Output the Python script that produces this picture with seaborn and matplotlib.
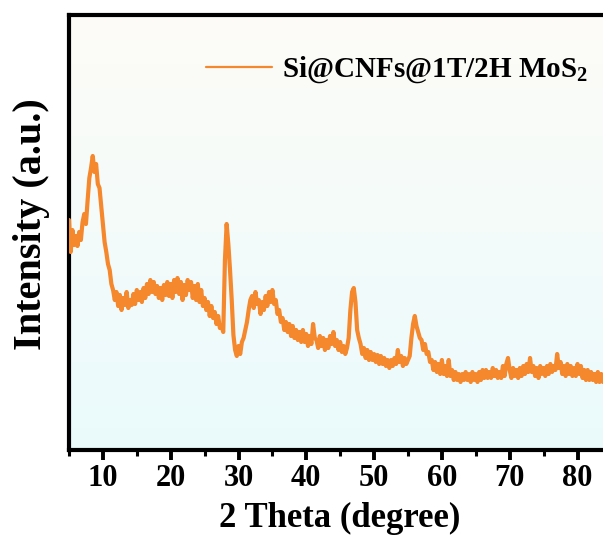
import numpy as np
import pandas as pd
import matplotlib
matplotlib.use("Agg")
import matplotlib.pyplot as plt
from matplotlib.colors import LinearSegmentedColormap
import seaborn as sns

# ---- data ----
two_theta_start = 5.0
two_theta_step = 0.25
intensity = [
    230, 198, 220, 205, 214, 204, 218, 210,                     # 5.00 - 6.75
    228, 236, 226, 250, 272, 282, 294, 278,                     # 7.00 - 8.75
    286, 266, 262, 244, 225, 208, 198, 186,                     # 9.00 - 10.75
    180, 166, 160, 150, 158, 144, 155, 140,                     # 11.00 - 12.75
    152, 145, 158, 142, 150, 145, 156, 146,                     # 13.00 - 14.75
    160, 150, 158, 148, 162, 152, 166, 156,                     # 15.00 - 16.75
    170, 158, 168, 156, 164, 152, 162, 150,                     # 17.00 - 18.75
    165, 155, 168, 154, 166, 152, 170, 158,                     # 19.00 - 20.75
    172, 156, 168, 150, 165, 155, 170, 160,                     # 21.00 - 22.75
    168, 152, 164, 150, 166, 148, 160, 144,                     # 23.00 - 24.75
    152, 140, 148, 134, 144, 132, 138, 126,                     # 25.00 - 26.75
    134, 122, 124, 118, 190, 226, 206, 180,                     # 27.00 - 28.75
    150, 115, 100, 94, 104, 96, 108, 112,                       # 29.00 - 30.75
    120, 128, 140, 150, 154, 142, 158, 146,                     # 31.00 - 32.75
    150, 136, 148, 140, 154, 144, 158, 148,                     # 33.00 - 34.75
    160, 146, 150, 136, 140, 128, 132, 120,                     # 35.00 - 36.75
    128, 118, 126, 114, 124, 112, 120, 110,                     # 37.00 - 38.75
    118, 108, 120, 108, 116, 104, 114, 106,                     # 39.00 - 40.75
    126, 112, 110, 102, 114, 104, 112, 100,                     # 41.00 - 42.75
    110, 102, 114, 106, 118, 104, 110, 100,                     # 43.00 - 44.75
    108, 98, 104, 96, 102, 112, 140, 158,                       # 45.00 - 46.75
    162, 148, 120, 112, 106, 96, 102, 92,                       # 47.00 - 48.75
    100, 90, 98, 90, 96, 88, 95, 86,                            # 49.00 - 50.75
    94, 86, 92, 84, 90, 82, 90, 84,                             # 51.00 - 52.75
    92, 86, 100, 88, 94, 84, 92, 86,                            # 53.00 - 54.75
    90, 94, 112, 126, 134, 124, 118, 112,                       # 55.00 - 56.75
    110, 100, 106, 96, 98, 88, 90, 80,                          # 57.00 - 58.75
    88, 78, 86, 76, 90, 76, 84, 74,                             # 59.00 - 60.75
    90, 74, 80, 70, 78, 70, 76, 68,                             # 61.00 - 62.75
    76, 70, 78, 70, 76, 68, 78, 70,                             # 63.00 - 64.75
    76, 68, 78, 70, 80, 72, 80, 72,                             # 65.00 - 66.75
    78, 72, 82, 74, 80, 72, 78, 72,                             # 67.00 - 68.75
    84, 74, 86, 92, 80, 72, 82, 74,                             # 69.00 - 70.75
    80, 72, 82, 74, 84, 76, 86, 78,                             # 71.00 - 72.75
    92, 78, 84, 74, 82, 72, 84, 76,                             # 73.00 - 74.75
    82, 74, 84, 76, 86, 78, 84, 80,                             # 75.00 - 76.75
    96, 82, 88, 76, 84, 74, 86, 76,                             # 77.00 - 78.75
    84, 74, 82, 74, 86, 76, 84, 72,                             # 79.00 - 80.75
    80, 70, 80, 70, 78, 70, 76, 68,                             # 81.00 - 82.75
    78, 68, 76, 68, 74, 68, 76, 70,                             # 83.00 - 84.75
    76, 68, 74, 70, 76,                                         # 85.00 - 86.00
]
two_theta = two_theta_start + two_theta_step * np.arange(len(intensity))
series_label = "Si@CNFs@1T/2H MoS$_{2}$"
x_ticks = [10, 20, 30, 40, 50, 60, 70, 80]
x_label = "2 Theta (degree)"
y_label = "Intensity (a.u.)"

df = pd.DataFrame({"two_theta": two_theta, "intensity": intensity})

# ---- style ----
sns.set_style("ticks")
plt.rcParams["font.family"] = ["Liberation Serif", "DejaVu Serif"]
plt.rcParams["font.weight"] = "bold"
plt.rcParams["text.color"] = "black"
plt.rcParams["axes.labelcolor"] = "black"
plt.rcParams["xtick.color"] = "black"
plt.rcParams["ytick.color"] = "black"
plt.rcParams["mathtext.fontset"] = "custom"
plt.rcParams["mathtext.rm"] = "Liberation Serif:bold"
plt.rcParams["mathtext.it"] = "Liberation Serif:bold"
plt.rcParams["mathtext.bf"] = "Liberation Serif:bold"
plt.rcParams["mathtext.default"] = "rm"

W, H = 603, 545
fig = plt.figure(figsize=(W / 100, H / 100), dpi=100)
fig.patch.set_facecolor("white")

px_per_deg = 6.78
x_min, x_max = 5, 88
left_px, bottom_px, top_px = 69, 450, 15
ax = fig.add_axes([left_px / W, (H - bottom_px) / H,
                   (x_max - x_min) * px_per_deg / W, (bottom_px - top_px) / H])

# background gradient
cmap = LinearSegmentedColormap.from_list("bg", ["#eafafc", "#f4fbfa", "#fdfcf7"])
grad = np.linspace(0, 1, 256).reshape(-1, 1)
ax.imshow(grad, extent=[0, 1, 0, 1], transform=ax.transAxes, origin="lower",
          aspect="auto", cmap=cmap, zorder=0)

line_color = "#f5872c"
sns.lineplot(data=df, x="two_theta", y="intensity", ax=ax, color=line_color,
             linewidth=3.0, label=series_label, zorder=3)

ax.set_xlim(x_min, x_max)
ax.set_ylim(0, 435)
ax.set_xticks(x_ticks)
ax.set_xticks(np.arange(5, 90, 5), minor=True)
ax.set_yticks([])
ax.tick_params(axis="x", which="major", direction="out", length=7, width=2.8,
               labelsize=22, pad=3, colors="black")
ax.tick_params(axis="x", which="minor", direction="out", length=4, width=2.2,
               colors="black")
for lab in ax.get_xticklabels():
    lab.set_fontweight("bold")
for s in ax.spines.values():
    s.set_linewidth(3.0)
    s.set_color("black")

ax.set_xlabel(x_label, fontsize=25, fontweight="bold", color="black")
ax.set_ylabel(y_label, fontsize=29, fontweight="bold", color="black")
ax.xaxis.set_label_coords((340 - left_px) / ((x_max - x_min) * px_per_deg), -0.12)
ax.yaxis.set_label_coords(-0.034, 0.52)

leg = ax.legend(loc="center left", bbox_to_anchor=(206 / W, 1 - 70 / H),
                bbox_transform=fig.transFigure, frameon=False, fontsize=21,
                handlelength=2.25, handletextpad=0.35, borderpad=0,
                borderaxespad=0)
for t in leg.get_texts():
    t.set_fontweight("bold")
    t.set_color("black")
for l in leg.get_lines():
    l.set_linewidth(1.6)

fig.savefig("out.png", dpi=100)
